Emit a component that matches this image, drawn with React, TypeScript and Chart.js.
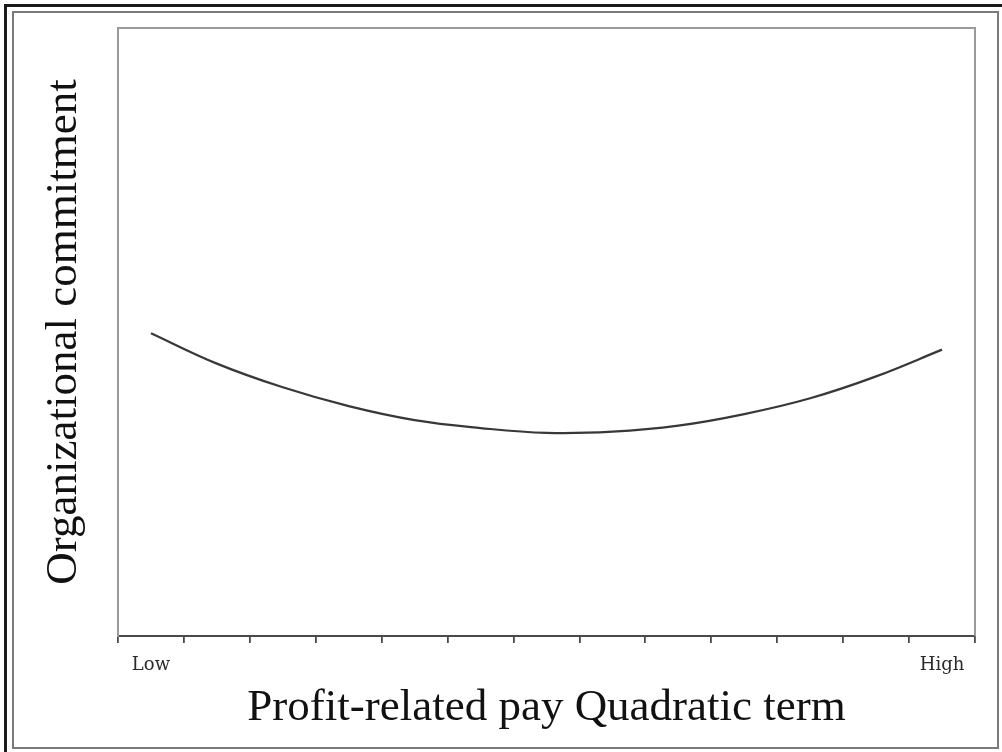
import React, { useEffect, useRef } from "react";
import { Chart, registerables } from "chart.js";

Chart.register(...registerables);

const categories: string[] = ["Low", "", "", "", "", "", "", "", "", "", "", "", "High"];
const commitment: number[] = [49.8, 44.8, 40.9, 37.8, 35.5, 34.2, 33.4, 33.6, 34.6, 36.5, 39.1, 42.7, 47.1];
const xTitle = "Profit-related pay Quadratic term";
const yTitle = "Organizational commitment";
const yMin = 0;
const yMax = 100;

const SERIF = "'Liberation Serif', 'Times New Roman', 'DejaVu Serif', serif";
const TICK_SERIF = "'DejaVu Serif', 'Liberation Serif', serif";

const plotFrame = {
  id: "plotFrame",
  afterDraw(chart: any) {
    const { ctx, chartArea } = chart;
    const { left, top, right, bottom } = chartArea;
    ctx.save();
    ctx.strokeStyle = "#9a9a9a";
    ctx.lineWidth = 2;
    ctx.beginPath();
    ctx.moveTo(left, bottom);
    ctx.lineTo(left, top);
    ctx.lineTo(right, top);
    ctx.lineTo(right, bottom);
    ctx.stroke();
    ctx.restore();
  },
};

export default function App() {
  const ref = useRef<HTMLCanvasElement | null>(null);

  useEffect(() => {
    if (!ref.current) return;
    const chart = new Chart(ref.current, {
      type: "line",
      data: {
        labels: categories,
        datasets: [
          {
            data: commitment,
            borderColor: "#383838",
            borderWidth: 2.2,
            pointRadius: 0,
            tension: 0.4,
            fill: false,
          },
        ],
      },
      options: {
        animation: false,
        responsive: false,
        devicePixelRatio: 1,
        layout: { padding: { left: 37, top: 28, right: 27, bottom: 17 } },
        plugins: { legend: { display: false }, tooltip: { enabled: false } },
        scales: {
          x: {
            type: "category",
            offset: true,
            grid: {
              offset: true,
              drawOnChartArea: false,
              drawTicks: true,
              tickLength: 7,
              color: "#4a4a4a",
              lineWidth: 1.8,
            },
            border: { display: true, color: "#4a4a4a", width: 2 },
            ticks: {
              autoSkip: false,
              maxRotation: 0,
              padding: 12,
              color: "#2a2a2a",
              font: { family: TICK_SERIF, size: 18 },
            },
            title: {
              display: true,
              text: xTitle,
              color: "#111111",
              padding: { top: 0, bottom: 0 },
              font: { family: SERIF, size: 45 },
            },
            afterFit: (scale: any) => {
              scale.height = 99;
            },
          },
          y: {
            min: yMin,
            max: yMax,
            grid: { display: false },
            border: { display: true, color: "#9a9a9a", width: 2 },
            ticks: { display: false },
            title: {
              display: true,
              text: yTitle,
              color: "#111111",
              padding: { top: 0, bottom: 0 },
              font: { family: SERIF, size: 45 },
            },
            afterFit: (scale: any) => {
              scale.width = 81;
            },
          },
        },
      },
      plugins: [plotFrame],
    });
    return () => chart.destroy();
  }, []);

  return (
    <div
      style={{
        position: "fixed",
        left: 0,
        top: 0,
        width: 1002,
        height: 752,
        background: "#ffffff",
        overflow: "hidden",
      }}
    >
      <div
        style={{
          position: "absolute",
          left: 4,
          top: 4,
          width: 1010,
          height: 760,
          border: "3px solid #1a1a1a",
          boxSizing: "border-box",
        }}
      />
      <div
        style={{
          position: "absolute",
          left: 12,
          top: 11,
          width: 987,
          height: 738,
          border: "2px solid #7a7a7a",
          boxSizing: "border-box",
        }}
      />
      <canvas
        ref={ref}
        width={1002}
        height={752}
        style={{ position: "absolute", left: 0, top: 0, width: 1002, height: 752 }}
      />
    </div>
  );
}
